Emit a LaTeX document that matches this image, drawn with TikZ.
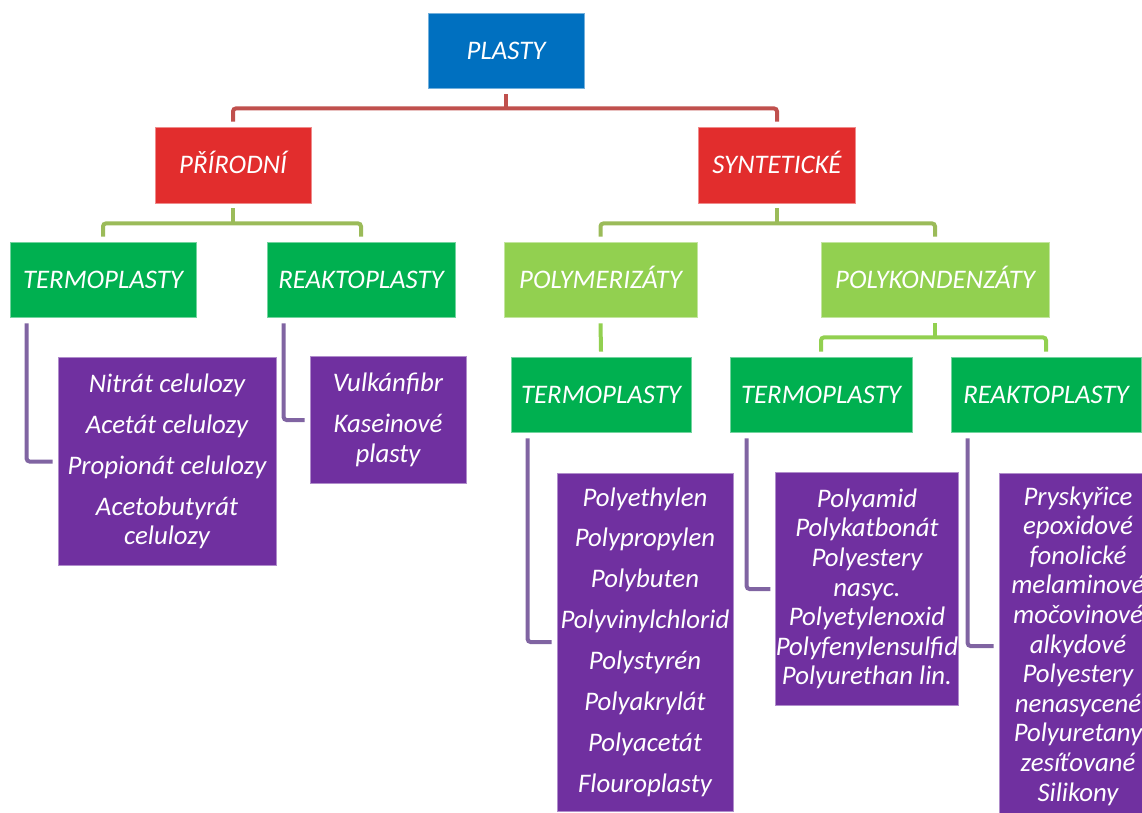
\documentclass[tikz,border=0pt]{standalone}
\usepackage{fontspec}
\setmainfont{Carlito}
\definecolor{plastyblue}{HTML}{0070C0}
\definecolor{boxred}{HTML}{E22D2D}
\definecolor{darkgreen}{HTML}{00B050}
\definecolor{lightgreen}{HTML}{92D050}
\definecolor{boxpurple}{HTML}{7030A0}
\definecolor{conred}{HTML}{C0504D}
\definecolor{congreen}{HTML}{9BBB59}
\definecolor{conpurple}{HTML}{8064A2}

\begin{document}
\begin{tikzpicture}[x=1pt,y=-1pt,
  card/.style={fill=#1,draw=#1!55!white,line width=0.8pt,inner sep=0pt,
    text=white,font=\fontsize{26.8}{29.6}\selectfont\itshape},
  head/.style={card=#1,text height=17.5pt,text depth=0pt,minimum height=75pt},
  list/.style={card=boxpurple,align=center},
  con/.style={line width=4pt,rounded corners=3pt,draw=#1}]
\useasboundingbox (0,0) rectangle (1142,812);
% top
\node[head=plastyblue,minimum width=156pt] (plasty) at (506,50.5) {PLASTY};
\node[head=boxred,minimum width=156pt,minimum height=76pt] (prirodni) at (233,165) {PŘÍRODNÍ};
\node[head=boxred,minimum width=157pt,minimum height=76pt] (synteticke) at (777,165) {SYNTETICKÉ};
% second row
\node[head=darkgreen,minimum width=186pt] (termoA) at (103,279.5) {TERMOPLASTY};
\node[head=darkgreen,minimum width=188pt] (reaktoA) at (361,279.5) {REAKTOPLASTY};
\node[head=lightgreen,minimum width=193pt] (polymer) at (600.5,279.5) {POLYMERIZÁTY};
\node[head=lightgreen,minimum width=228pt] (polykond) at (935,279.5) {POLYKONDENZÁTY};
% third row
\node[head=darkgreen,minimum width=180pt] (termoB) at (601,394.5) {TERMOPLASTY};
\node[head=darkgreen,minimum width=182pt] (termoC) at (821,394.5) {TERMOPLASTY};
\node[head=darkgreen,minimum width=190pt] (reaktoB) at (1046,394.5) {REAKTOPLASTY};
% lists
\node[list,minimum width=218pt,minimum height=208pt] (listA) at (167,461.5)
  {Nitrát celulozy\\[11.3pt]Acetát celulozy\\[11.3pt]Propionát celulozy\\[11.3pt]Acetobutyrát\\celulozy};
\node[list,minimum width=156pt,minimum height=127pt] (listB) at (388,420)
  {Vulkánfibr\\[11.3pt]Kaseinové\\plasty};
\node[list,minimum width=176pt,minimum height=338pt] (listC) at (645,642)
  {Polyethylen\\[11.3pt]Polypropylen\\[11.3pt]Polybuten\\[11.3pt]Polyvinylchlorid\\[11.3pt]Polystyrén\\[11.3pt]Polyakrylát\\[11.3pt]Polyacetát\\[11.3pt]Flouroplasty};
\node[list,minimum width=180pt,minimum height=233pt] (listD) at (867,589)
  {Polyamid\\Polykatbonát\\Polyestery\\nasyc.\\Polyetylenoxid\\Polyfenylensulfid\\Polyurethan lin.};
\node[list,minimum width=158pt,minimum height=346pt] (listE) at (1078,646)
  {Pryskyřice\\epoxidové\\fonolické\\melaminové\\močovinové\\alkydové\\Polyestery\\nenasycené\\Polyuretany\\zesíťované\\Silikony};
% connectors
\draw[con=conred] ([yshift=-6pt]plasty.south) -- ([yshift=-20pt]plasty.south);
\draw[con=conred] ([yshift=5pt]prirodni.north) |- ([yshift=-20pt]plasty.south) -| ([yshift=5pt]synteticke.north);
\draw[con=congreen] ([yshift=-5pt]prirodni.south) -- ([yshift=-20pt]prirodni.south);
\draw[con=congreen] ([yshift=5pt]termoA.north) |- ([yshift=-20pt]prirodni.south) -| ([yshift=5pt]reaktoA.north);
\draw[con=congreen] ([yshift=-5pt]synteticke.south) -- ([yshift=-20pt]synteticke.south);
\draw[con=congreen] ([yshift=5pt]polymer.north) |- ([yshift=-20pt]synteticke.south) -| ([yshift=5pt]polykond.north);
\draw[con=lightgreen] ([yshift=-6pt]polymer.south) -- ([yshift=5pt]termoB.north);
\draw[con=lightgreen] ([yshift=-6pt]polykond.south) -- ([yshift=-20pt]polykond.south);
\draw[con=lightgreen] ([yshift=5pt]termoC.north) |- ([yshift=-20pt]polykond.south) -| ([yshift=5pt]reaktoB.north);
\draw[con=conpurple] ([xshift=17pt,yshift=-6pt]termoA.south west) |- ([xshift=-5pt]listA.west);
\draw[con=conpurple] ([xshift=17pt,yshift=-6pt]reaktoA.south west) |- ([xshift=-5pt]listB.west);
\draw[con=conpurple] ([xshift=17pt,yshift=-6pt]termoB.south west) |- ([xshift=-5pt]listC.west);
\draw[con=conpurple] ([xshift=17pt,yshift=-6pt]termoC.south west) |- ([xshift=-5pt]listD.west);
\draw[con=conpurple] ([xshift=17pt,yshift=-6pt]reaktoB.south west) |- ([xshift=-5pt]listE.west);
\end{tikzpicture}
\end{document}
